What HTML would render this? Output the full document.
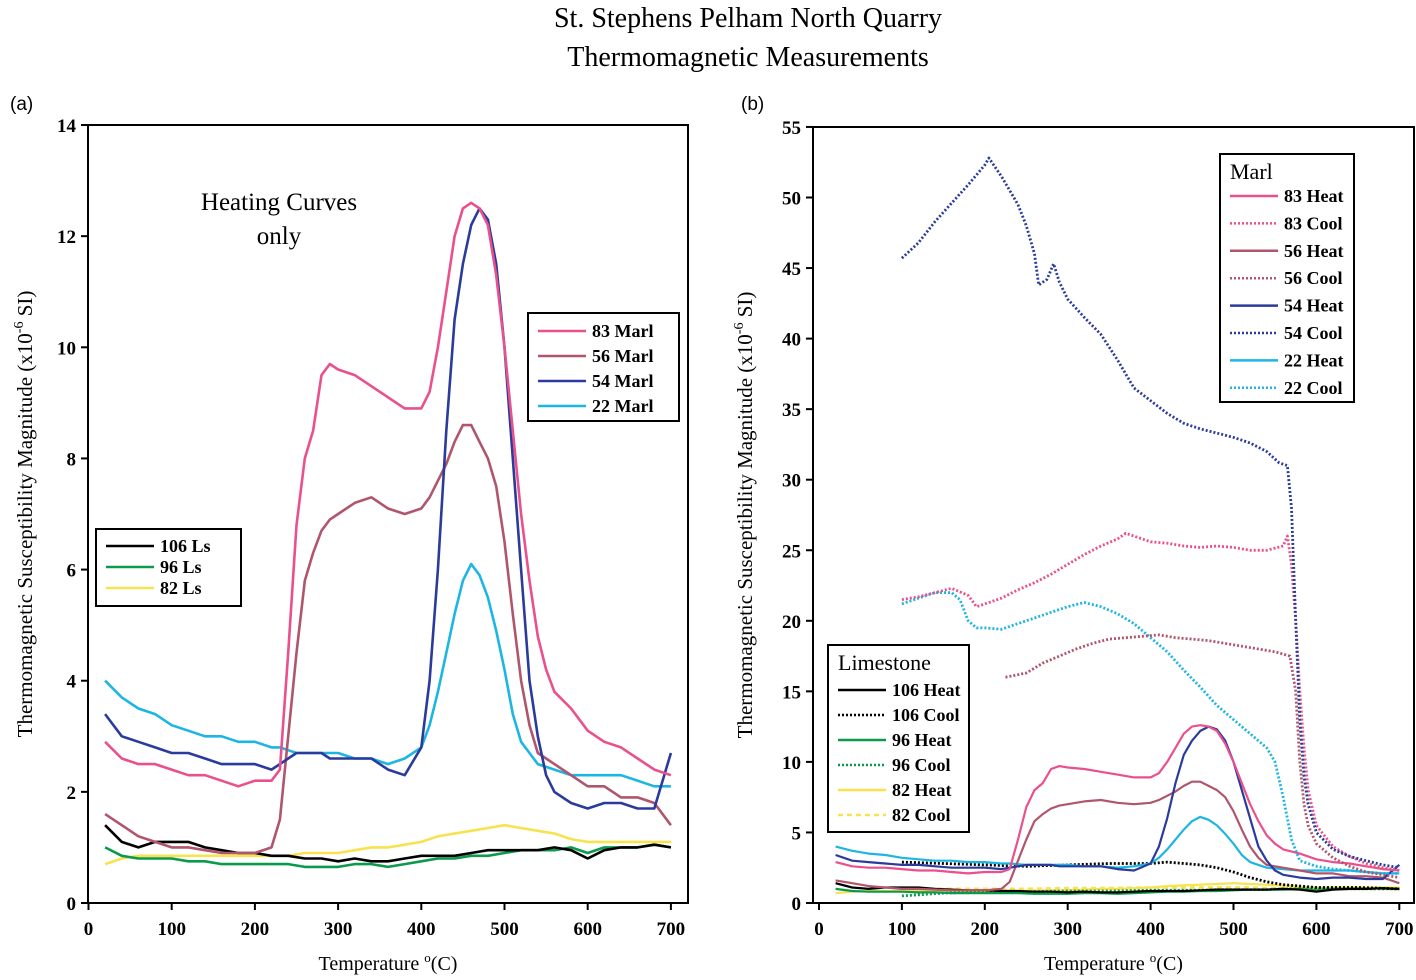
<!DOCTYPE html>
<html><head><meta charset="utf-8">
<style>
body{margin:0;background:#fff;width:1416px;height:975px;overflow:hidden}
svg{font-family:"Liberation Serif",serif}
.tk{font-weight:bold;font-size:19px}
</style></head>
<body>
<svg id="c" width="1416" height="975" viewBox="0 0 1416 975">
<text x="748" y="27" font-size="28" text-anchor="middle">St. Stephens Pelham North Quarry</text>
<text x="748" y="66" font-size="28" text-anchor="middle">Thermomagnetic Measurements</text>
<text x="10" y="110" font-size="19" font-family="Liberation Sans, sans-serif">(a)</text>
<text x="741" y="110" font-size="19" font-family="Liberation Sans, sans-serif">(b)</text>
<g id="L"></g><g id="R"></g>
</svg>
<script>
const xTicks=[0,100,200,300,400,500,600,700];
const yTicksA=[0,2,4,6,8,10,12,14];
const yTicksB=[0,5,10,15,20,25,30,35,40,45,50,55];
// Heating series (°C, value)
const tA=[20,40,60,80,100,120,140,160,180,200,220,230,240,250,260,270,280,290,300,320,340,360,380,400,410,420,430,440,450,460,470,480,490,500,510,520,530,540,550,560,580,600,620,640,660,680,700];
const m83H=[2.9,2.6,2.5,2.5,2.4,2.3,2.3,2.2,2.1,2.2,2.2,2.4,4.5,6.8,8.0,8.5,9.5,9.7,9.6,9.5,9.3,9.1,8.9,8.9,9.2,10.0,11.0,12.0,12.5,12.6,12.5,12.2,11.3,10.0,8.5,7.0,5.8,4.8,4.2,3.8,3.5,3.1,2.9,2.8,2.6,2.4,2.3];
const m56H=[1.6,1.4,1.2,1.1,1.0,1.0,0.95,0.9,0.9,0.9,1.0,1.5,3.0,4.5,5.8,6.3,6.7,6.9,7.0,7.2,7.3,7.1,7.0,7.1,7.3,7.6,7.9,8.3,8.6,8.6,8.3,8.0,7.5,6.5,5.2,4.0,3.2,2.7,2.6,2.5,2.3,2.1,2.1,1.9,1.9,1.8,1.4];
const m54H=[3.4,3.0,2.9,2.8,2.7,2.7,2.6,2.5,2.5,2.5,2.4,2.5,2.6,2.7,2.7,2.7,2.7,2.6,2.6,2.6,2.6,2.4,2.3,2.8,4.0,6.0,8.5,10.5,11.5,12.2,12.5,12.3,11.5,10.0,8.0,6.0,4.0,3.0,2.3,2.0,1.8,1.7,1.8,1.8,1.7,1.7,2.7];
const m22H=[4.0,3.7,3.5,3.4,3.2,3.1,3.0,3.0,2.9,2.9,2.8,2.8,2.75,2.7,2.7,2.7,2.7,2.7,2.7,2.6,2.6,2.5,2.6,2.8,3.2,3.8,4.5,5.2,5.8,6.1,5.9,5.5,4.9,4.2,3.4,2.9,2.7,2.5,2.45,2.4,2.3,2.3,2.3,2.3,2.2,2.1,2.1];
const tL=[20,40,60,80,100,120,140,160,180,200,220,240,260,280,300,320,340,360,380,400,420,440,460,480,500,520,540,560,580,600,620,640,660,680,700];
const l106H=[1.4,1.1,1.0,1.1,1.1,1.1,1.0,0.95,0.9,0.9,0.85,0.85,0.8,0.8,0.75,0.8,0.75,0.75,0.8,0.85,0.85,0.85,0.9,0.95,0.95,0.95,0.95,1.0,0.95,0.8,0.95,1.0,1.0,1.05,1.0];
const l96H=[1.0,0.85,0.8,0.8,0.8,0.75,0.75,0.7,0.7,0.7,0.7,0.7,0.65,0.65,0.65,0.7,0.7,0.65,0.7,0.75,0.8,0.8,0.85,0.85,0.9,0.95,0.95,0.95,1.0,0.9,1.0,1.0,1.0,1.05,1.0];
const l82H=[0.7,0.8,0.85,0.85,0.85,0.85,0.85,0.85,0.85,0.85,0.85,0.85,0.9,0.9,0.9,0.95,1.0,1.0,1.05,1.1,1.2,1.25,1.3,1.35,1.4,1.35,1.3,1.25,1.15,1.1,1.1,1.1,1.1,1.1,1.1];
// Cooling series (panel b)
const t83C=[100,120,140,160,180,190,200,220,240,260,280,300,320,340,360,370,380,400,420,440,460,480,500,520,540,560,565,570,575,580,585,590,600,620,640,660,680,700];
const m83C=[21.5,21.7,22.0,22.3,21.8,21.0,21.2,21.6,22.2,22.7,23.3,24.0,24.7,25.3,25.8,26.2,26.0,25.6,25.5,25.3,25.2,25.3,25.2,25.0,25.0,25.3,26.0,24,20,15,11,8,5.5,4.0,3.3,2.8,2.5,2.3];
const t56C=[225,250,270,290,310,330,350,370,390,410,430,450,470,490,510,530,550,568,575,580,585,590,600,620,640,660,680,700];
const m56C=[16.0,16.3,17.0,17.5,18.0,18.4,18.7,18.8,18.9,19.0,18.8,18.7,18.6,18.4,18.2,18.0,17.8,17.5,15,10,7,5.5,4.2,3.2,2.6,2.2,2.0,1.8];
const t54C=[100,120,140,160,180,200,205,220,240,250,260,265,275,283,290,300,320,340,360,380,400,420,440,460,480,500,520,540,555,565,570,575,580,585,590,600,620,640,660,680,700];
const m54C=[45.7,46.8,48.3,49.6,50.9,52.3,52.8,51.5,49.5,48,46,43.8,44.2,45.3,44,42.8,41.5,40.3,38.5,36.5,35.6,34.7,34.0,33.6,33.3,33.0,32.6,32.0,31.2,31.0,28,20,13,9,7,5,3.8,3.3,3.0,2.7,2.5];
const t22C=[100,120,140,160,170,180,190,200,220,240,260,280,300,320,340,360,380,400,420,440,460,480,500,520,540,550,560,570,580,600,620,640,660,680,700];
const m22C=[21.2,21.6,22.0,22.0,21.5,20.0,19.5,19.5,19.4,19.8,20.2,20.6,21.0,21.3,21.0,20.5,19.8,18.8,17.8,16.5,15.3,14.0,13.0,12.0,11.0,10.0,7.5,4.5,3.0,2.6,2.4,2.3,2.2,2.1,2.1];
const tLC=[100,150,200,250,300,350,400,420,440,460,480,500,520,540,560,580,600,650,700];
const l106C=[2.9,2.8,2.7,2.6,2.7,2.8,2.8,2.9,2.8,2.7,2.5,2.2,1.8,1.5,1.3,1.2,1.1,1.1,1.0];
const l96C=[0.5,0.7,0.8,0.8,0.85,0.85,0.9,0.9,0.9,0.9,0.95,0.95,0.95,0.95,1.0,1.0,1.0,1.0,1.0];
const l82C=[1.0,1.0,1.0,1.0,1.05,1.05,1.1,1.1,1.1,1.1,1.1,1.1,1.1,1.05,1.05,1.05,1.0,1.0,1.0];

const C={pink:'#e9508c',mauve:'#b0566c',navy:'#2a3b9c',cyan:'#1db6e2',black:'#000',green:'#0b9a4c',yellow:'#f7e250'};
const NS='http://www.w3.org/2000/svg';
function mk(p,tag,at){const e=document.createElementNS(NS,tag);for(const k in at)e.setAttribute(k,at[k]);p.appendChild(e);return e;}

function panel(g,o){
  const sx=v=>o.x0+v*o.kx, sy=v=>o.y0-v*o.ky;
  const box=mk(g,'rect',{x:o.bx,y:o.by,width:o.bw,height:o.y0-o.by,fill:'none',stroke:'#000','stroke-width':2});
  
  
  xTicks.forEach(t=>{
    mk(g,'line',{x1:sx(t),x2:sx(t),y1:o.y0,y2:o.y0+7,stroke:'#000','stroke-width':2});
    const tx=mk(g,'text',{x:sx(t),y:o.y0+32,'text-anchor':'middle',class:'tk'});tx.textContent=t;
    
    
  });
  o.yt.forEach(t=>{
    mk(g,'line',{x1:o.bx-7,x2:o.bx,y1:sy(t),y2:sy(t),stroke:'#000','stroke-width':2});
    const tx=mk(g,'text',{x:o.bx-12,y:sy(t)+7,'text-anchor':'end',class:'tk'});tx.textContent=t;
    
    
  });
  const xt=mk(g,'text',{x:o.bx+o.bw/2,y:970,'text-anchor':'middle','font-size':20});
  xt.innerHTML='Temperature <tspan dy="-8" font-size="13">o</tspan><tspan dy="8">(C)</tspan>';
  
  
  const yt=mk(g,'text',{transform:`translate(${o.yx},${(o.by+o.y0)/2}) rotate(-90)`,'text-anchor':'middle','font-size':21});
  yt.innerHTML='Thermomagnetic Susceptibility Magnitude (x10<tspan dy="-9" font-size="14">-6</tspan><tspan dy="9"> SI)</tspan>';
  
  
  o.series.forEach(s=>{
    const pts=s.t.map((t,i)=>sx(t).toFixed(1)+','+sy(s.v[i]).toFixed(1)).join(' ');
    const at={points:pts,fill:'none',stroke:s.c,'stroke-width':s.d?2.8:o.sw,'stroke-linejoin':'round'};
    if(s.d)at['stroke-dasharray']=s.d;
    const pl=mk(g,'polyline',at);
    
    
  });
}
function legend(g,x,y,w,h,title,items,rowH,y1,nm){
  const r=mk(g,'rect',{x,y,width:w,height:h,fill:'#fff',stroke:'#000','stroke-width':2});
  
  
  if(title){const t=mk(g,'text',{x:x+10,y:y+25,'font-size':22});t.textContent=title;
    
    }
  items.forEach((it,i)=>{
    const yy=y+y1+i*rowH;
    const at={x1:x+10,x2:x+58,y1:yy,y2:yy,stroke:it[1],'stroke-width':2.5};
    if(it[2])at['stroke-dasharray']=it[2];
    mk(g,'line',at);
    const t=mk(g,'text',{x:x+64,y:yy+6,'font-size':18,'font-weight':'bold'});t.textContent=it[0];
    
    
  });
}
const L=document.getElementById('L'),R=document.getElementById('R');
panel(L,{id:'panel-a',x0:88.5,kx:0.832,y0:903,ky:55.57,bx:88,bw:600,by:125,yt:yTicksA,yx:32,sw:2.6,series:[
 {n:'line-82-ls',t:tL,v:l82H,c:C.yellow},{n:'line-96-ls',t:tL,v:l96H,c:C.green},{n:'line-106-ls',t:tL,v:l106H,c:C.black},
 {n:'line-22-marl',t:tA,v:m22H,c:C.cyan},{n:'line-56-marl',t:tA,v:m56H,c:C.mauve},{n:'line-54-marl',t:tA,v:m54H,c:C.navy},{n:'line-83-marl',t:tA,v:m83H,c:C.pink}]});
const ht=mk(L,'text',{x:279,y:210,'text-anchor':'middle','font-size':25});ht.innerHTML='Heating Curves<tspan x="279" dy="34">only</tspan>';


legend(L,528,313,151,108,null,[['83 Marl',C.pink],['56 Marl',C.mauve],['54 Marl',C.navy],['22 Marl',C.cyan]],25,18,'marl-legend-a');
legend(L,96,529,145,77,null,[['106 Ls',C.black],['96 Ls',C.green],['82 Ls',C.yellow]],21,17,'limestone-legend-a');

const D='2,2';
panel(R,{id:'panel-b',x0:819,kx:0.829,y0:903,ky:14.11,bx:813,bw:601,by:127,yt:yTicksB,yx:752,sw:2.2,series:[
 {n:'line-82-cool',t:tLC,v:l82C,c:C.yellow,d:'5,4'},{n:'line-82-heat',t:tL,v:l82H,c:C.yellow},
 {n:'line-96-cool',t:tLC,v:l96C,c:C.green,d:D},{n:'line-96-heat',t:tL,v:l96H,c:C.green},
 {n:'line-106-cool',t:tLC,v:l106C,c:C.black,d:D},{n:'line-106-heat',t:tL,v:l106H,c:C.black},
 {n:'line-22-heat',t:tA,v:m22H,c:C.cyan},{n:'line-56-heat',t:tA,v:m56H,c:C.mauve},{n:'line-54-heat',t:tA,v:m54H,c:C.navy},{n:'line-83-heat',t:tA,v:m83H,c:C.pink},
 {n:'line-22-cool',t:t22C,v:m22C,c:C.cyan,d:D},{n:'line-56-cool',t:t56C,v:m56C,c:C.mauve,d:D},{n:'line-83-cool',t:t83C,v:m83C,c:C.pink,d:D},{n:'line-54-cool',t:t54C,v:m54C,c:C.navy,d:D}]});
legend(R,1220,154,134,248,'Marl',[['83 Heat',C.pink],['83 Cool',C.pink,D],['56 Heat',C.mauve],['56 Cool',C.mauve,D],['54 Heat',C.navy],['54 Cool',C.navy,D],['22 Heat',C.cyan],['22 Cool',C.cyan,D]],27.4,42,'marl-legend-b');
legend(R,828,645,141,187,'Limestone',[['106 Heat',C.black],['106 Cool',C.black,D],['96 Heat',C.green],['96 Cool',C.green,D],['82 Heat',C.yellow],['82 Cool',C.yellow,'5,4']],25,45,'limestone-legend-b');
</script>
</body></html>
